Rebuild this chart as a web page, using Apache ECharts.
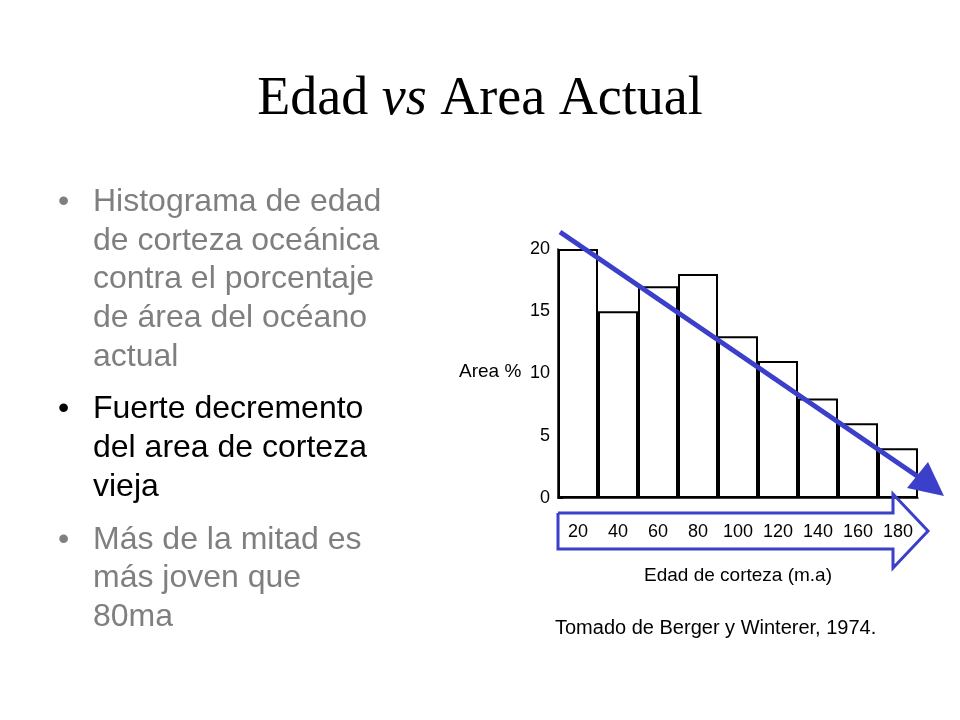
<!DOCTYPE html>
<html><head><meta charset="utf-8">
<script src="https://cdn.jsdelivr.net/npm/echarts@6/dist/echarts.min.js"></script>
<style>html,body{margin:0;background:#fff}#c{width:960px;height:720px}</style>
</head><body><div id="c"></div>
<script>
const categories = ['20','40','60','80','100','120','140','160','180'];
const areaPct = [20, 15, 17, 18, 13, 11, 8, 6, 4];
const yTicks = [0, 5, 10, 15, 20];

const chart = echarts.init(document.getElementById('c'));
const gray = '#7f7f7f', blue = '#3b3fc9';
const bulletFont = '32px "Liberation Sans", Arial, sans-serif';
function lines(arr, y0, step, color) {
  const out = [];
  arr.forEach((t, i) => out.push({type:'text', left:93, top:y0 + i*step, z:10, style:{text:t, font:bulletFont, fill:color}}));
  out.push({type:'text', left:58, top:y0, z:10, style:{text:'•', font:bulletFont, fill:color}});
  return out;
}
chart.setOption({
  animation:false,
  title:{text:'{a|Edad }{b|vs}{a| Area Actual}', left:'center', top:68,
    textStyle:{rich:{a:{fontFamily:'"Liberation Serif", "Times New Roman", serif', fontSize:54, fontWeight:'normal', color:'#000'},
                     b:{fontFamily:'"Liberation Serif", "Times New Roman", serif', fontSize:54, fontWeight:'normal', fontStyle:'italic', color:'#000'}}}},
  grid:{left:558, right:42, top:249, bottom:222},
  xAxis:{type:'category', data:categories,
    axisLine:{lineStyle:{color:'#000', width:1.5}}, axisTick:{show:false},
    axisLabel:{margin:25, fontSize:18, color:'#000', fontFamily:'"Liberation Sans Narrow","Liberation Sans",Arial'},
    name:'Edad de corteza (m.a)', nameLocation:'middle', nameGap:68,
    nameTextStyle:{fontSize:19, color:'#000', fontFamily:'"Liberation Sans Narrow","Liberation Sans",Arial'}},
  yAxis:{type:'value', min:0, max:20, interval:5,
    axisLine:{show:true, lineStyle:{color:'#000', width:1.5}},
    axisTick:{show:true, inside:true, length:5, lineStyle:{color:'#000'}}, splitLine:{show:false},
    axisLabel:{fontSize:18, color:'#000', margin:8, fontFamily:'"Liberation Sans Narrow","Liberation Sans",Arial',
      formatter:v => yTicks.includes(v) ? String(v) : ''}},
  series:[{type:'bar', data:areaPct, barCategoryGap:'0%',
    itemStyle:{color:'#fff', borderColor:'#000', borderWidth:2}}],
  graphic:[
    ...lines(['Histograma de edad','de corteza oceánica','contra el porcentaje','de área del océano','actual'], 186, 38.7, gray),
    ...lines(['Fuerte decremento','del area de corteza','vieja'], 393, 39, '#000'),
    ...lines(['Más de la mitad es','más joven que','80ma'], 524, 38.5, gray),
    {type:'text', left:459, top:362, z:10, style:{text:'Area %', font:'19px "Liberation Sans Narrow","Liberation Sans",Arial', fill:'#000'}},
    {type:'text', left:555, top:618, z:10, style:{text:'Tomado de Berger y Winterer, 1974.', font:'20px "Liberation Sans", Arial', fill:'#000'}},
    {type:'polyline', z:100, shape:{points:[[558,513],[893,513],[893,494],[928,531],[893,568],[893,549],[558,549],[558,513]]},
      style:{stroke:blue, lineWidth:3, fill:null}},
    {type:'line', z:100, shape:{x1:560,y1:232,x2:920,y2:478}, style:{stroke:blue, lineWidth:5}},
    {type:'polygon', z:100, shape:{points:[[944,496],[907,488],[928,462]]}, style:{fill:blue}}
  ]
});
</script></body></html>
